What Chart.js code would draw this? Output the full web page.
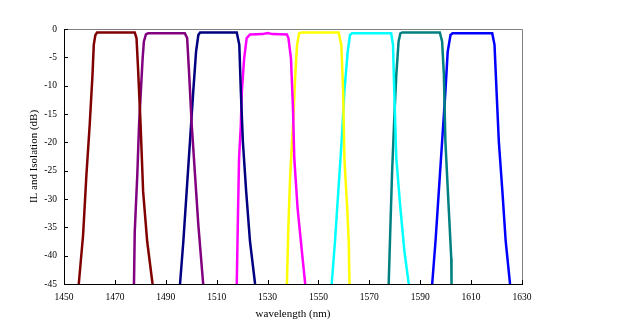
<!DOCTYPE html>
<html>
<head>
<meta charset="utf-8">
<script src="https://cdn.jsdelivr.net/npm/chart.js@4/dist/chart.umd.min.js"></script>
<style>
  html, body { margin: 0; padding: 0; background: #ffffff; }
  #wrap { width: 642px; height: 333px; position: relative; }
</style>
</head>
<body>
<div id="wrap"><canvas id="c" width="642" height="333"></canvas></div>
<script>
// ---- data ----
const xTicks = [1450, 1470, 1490, 1510, 1530, 1550, 1570, 1590, 1610, 1630];
const yTicks = [0, -5, -10, -15, -20, -25, -30, -35, -40, -45];

const ch1_nm = [1455.8, 1457.5, 1458.8, 1460.1, 1461.2, 1461.7, 1462.3, 1463.0, 1470, 1477.8, 1478.5, 1479.1, 1480.1, 1481.1, 1482.7, 1484.8];
const ch1_dB = [-45, -36.4, -25.8, -16.9, -8.1, -2.8, -1.1, -0.6, -0.6, -0.6, -1.6, -6.9, -16.9, -28.7, -37.5, -45];

const ch2_nm = [1477.5, 1477.8, 1478.8, 1479.5, 1480.2, 1480.9, 1481.4, 1482.2, 1483.0, 1490, 1497.5, 1498.4, 1499.2, 1500.2, 1501.5, 1502.8, 1504.7];
const ch2_dB = [-45, -35.8, -25.8, -16.9, -11, -5.2, -2.2, -0.95, -0.77, -0.77, -0.77, -1.6, -8.1, -16.9, -25.8, -34.6, -45];

const ch3_nm = [1495.6, 1496.9, 1498.2, 1499.5, 1500.8, 1501.9, 1502.8, 1503.5, 1510, 1517.9, 1518.9, 1519.5, 1520.3, 1521.6, 1523.1, 1525.1];
const ch3_dB = [-45, -37.5, -28.7, -19.9, -11, -4, -1.06, -0.6, -0.6, -0.6, -2.8, -11, -19.9, -28.7, -37.5, -45];

const ch4_nm = [1517.9, 1518.3, 1518.8, 1519.5, 1519.9, 1520.8, 1521.8, 1523.1, 1528, 1530, 1532, 1537.6, 1538.2, 1539.2, 1540.0, 1540.5, 1541.8, 1543.5, 1544.8];
const ch4_dB = [-45, -34.6, -22.8, -16.9, -11, -5.2, -1.6, -0.95, -0.9, -0.7, -0.9, -0.95, -1.6, -5.2, -14, -22.8, -31.6, -39.3, -45];

const ch5_nm = [1537.6, 1538.2, 1538.9, 1540.0, 1540.9, 1541.6, 1542.4, 1543.2, 1550, 1557.9, 1559.0, 1559.7, 1560.2, 1561.3, 1561.9, 1562.2];
const ch5_dB = [-45, -34.6, -25.8, -16.9, -8.1, -2.8, -0.76, -0.6, -0.6, -0.6, -2.8, -11, -22.8, -31.6, -37.5, -45];

const ch6_nm = [1555.2, 1556.5, 1557.8, 1559.1, 1560.2, 1561.5, 1562.4, 1563.2, 1570, 1578.6, 1579.3, 1579.8, 1580.6, 1582.2, 1583.8, 1585.5];
const ch6_dB = [-45, -37.5, -28.7, -19.9, -11, -4, -1.06, -0.77, -0.77, -0.77, -2.8, -11, -22.8, -31.6, -39.3, -45];

const ch7_nm = [1577.6, 1578.3, 1578.9, 1579.8, 1580.6, 1581.5, 1582.2, 1583.0, 1590, 1597.7, 1598.6, 1599.3, 1599.9, 1601.2, 1602.2, 1602.3];
const ch7_dB = [-45, -34.6, -25.8, -15.8, -8.1, -2.2, -0.76, -0.6, -0.6, -0.6, -2.2, -8.1, -19.9, -31.6, -40.5, -45];

const ch8_nm = [1594.7, 1596.0, 1597.3, 1598.6, 1599.9, 1600.8, 1601.9, 1602.7, 1610, 1618.3, 1619.2, 1620.0, 1620.9, 1622.3, 1623.6, 1625.3];
const ch8_dB = [-45, -37.5, -28.7, -19.9, -11, -4, -1.06, -0.77, -0.77, -0.77, -2.8, -11, -19.9, -28.7, -37.5, -45];

const channels = [
  [ch1_nm, ch1_dB, '#800000'],
  [ch2_nm, ch2_dB, '#800080'],
  [ch3_nm, ch3_dB, '#000080'],
  [ch4_nm, ch4_dB, '#FF00FF'],
  [ch5_nm, ch5_dB, '#FFFF00'],
  [ch6_nm, ch6_dB, '#00FFFF'],
  [ch7_nm, ch7_dB, '#008080'],
  [ch8_nm, ch8_dB, '#0000FF']
];

const datasets = channels.map(([xs, ys, col], i) => ({
  label: 'CH' + (i + 1),
  data: xs.map((x, k) => ({ x: x, y: ys[k] })),
  borderColor: col,
  backgroundColor: col,
  borderWidth: 2.5,
  pointRadius: 0,
  tension: 0,
  showLine: true,
  fill: false
}));

const FONT = "'Liberation Serif', 'Times New Roman', serif";

// frame + inward tick marks drawn from the scales
const framePlugin = {
  id: 'frame',
  afterDatasetsDraw(chart) {
    const { ctx, chartArea: a, scales } = chart;
    ctx.save();
    ctx.lineWidth = 1;
    ctx.strokeStyle = '#808080';
    ctx.beginPath();
    ctx.moveTo(a.left, a.top + 0.5); ctx.lineTo(a.right + 0.5, a.top + 0.5);
    ctx.lineTo(a.right + 0.5, a.bottom);
    ctx.stroke();
    ctx.strokeStyle = '#000000';
    ctx.beginPath();
    ctx.moveTo(Math.round(a.left) + 0.5, a.top);
    ctx.lineTo(Math.round(a.left) + 0.5, Math.round(a.bottom) + 0.5);
    ctx.lineTo(a.right + 1, Math.round(a.bottom) + 0.5);
    ctx.stroke();
    ctx.beginPath();
    yTicks.forEach(v => {
      const y = Math.round(scales.y.getPixelForValue(v)) + 0.5;
      ctx.moveTo(a.left, y); ctx.lineTo(a.left + 4, y);
    });
    xTicks.forEach(v => {
      const x = Math.round(scales.x.getPixelForValue(v)) + 0.5;
      ctx.moveTo(x, a.bottom); ctx.lineTo(x, a.bottom - 4);
    });
    ctx.stroke();
    ctx.restore();
  }
};

new Chart(document.getElementById('c'), {
  type: 'scatter',
  data: { datasets },
  options: {
    responsive: false,
    animation: false,
    devicePixelRatio: 1,
    layout: { padding: { top: 29, right: 120, left: 0, bottom: 0 } },
    plugins: { legend: { display: false }, tooltip: { enabled: false } },
    scales: {
      x: {
        type: 'linear',
        min: 1450, max: 1630,
        afterBuildTicks: s => { s.ticks = xTicks.map(v => ({ value: v })); },
        afterFit: s => { s.height = 49; },
        grid: { display: false, drawTicks: false },
        border: { display: false },
        ticks: { color: '#000', font: { family: FONT, size: 9.5 }, padding: 8, maxRotation: 0, autoSkip: false,
                 callback: v => String(v) },
        title: { display: true, text: 'wavelength (nm)', color: '#000', font: { family: FONT, size: 11 }, padding: { top: 0, bottom: 12 } }
      },
      y: {
        type: 'linear',
        min: -45, max: 0,
        afterBuildTicks: s => { s.ticks = yTicks.map(v => ({ value: v })); },
        afterFit: s => { s.width = 64; },
        grid: { display: false, drawTicks: false },
        border: { display: false },
        ticks: { color: '#000', font: { family: FONT, size: 9.5 }, padding: 7, autoSkip: false,
                 callback: v => String(v) },
        title: { display: true, text: 'IL and Isolation (dB)', color: '#000', font: { family: FONT, size: 11 }, padding: { top: 28, bottom: 0 } }
      }
    }
  },
  plugins: [framePlugin]
});
</script>
</body>
</html>
